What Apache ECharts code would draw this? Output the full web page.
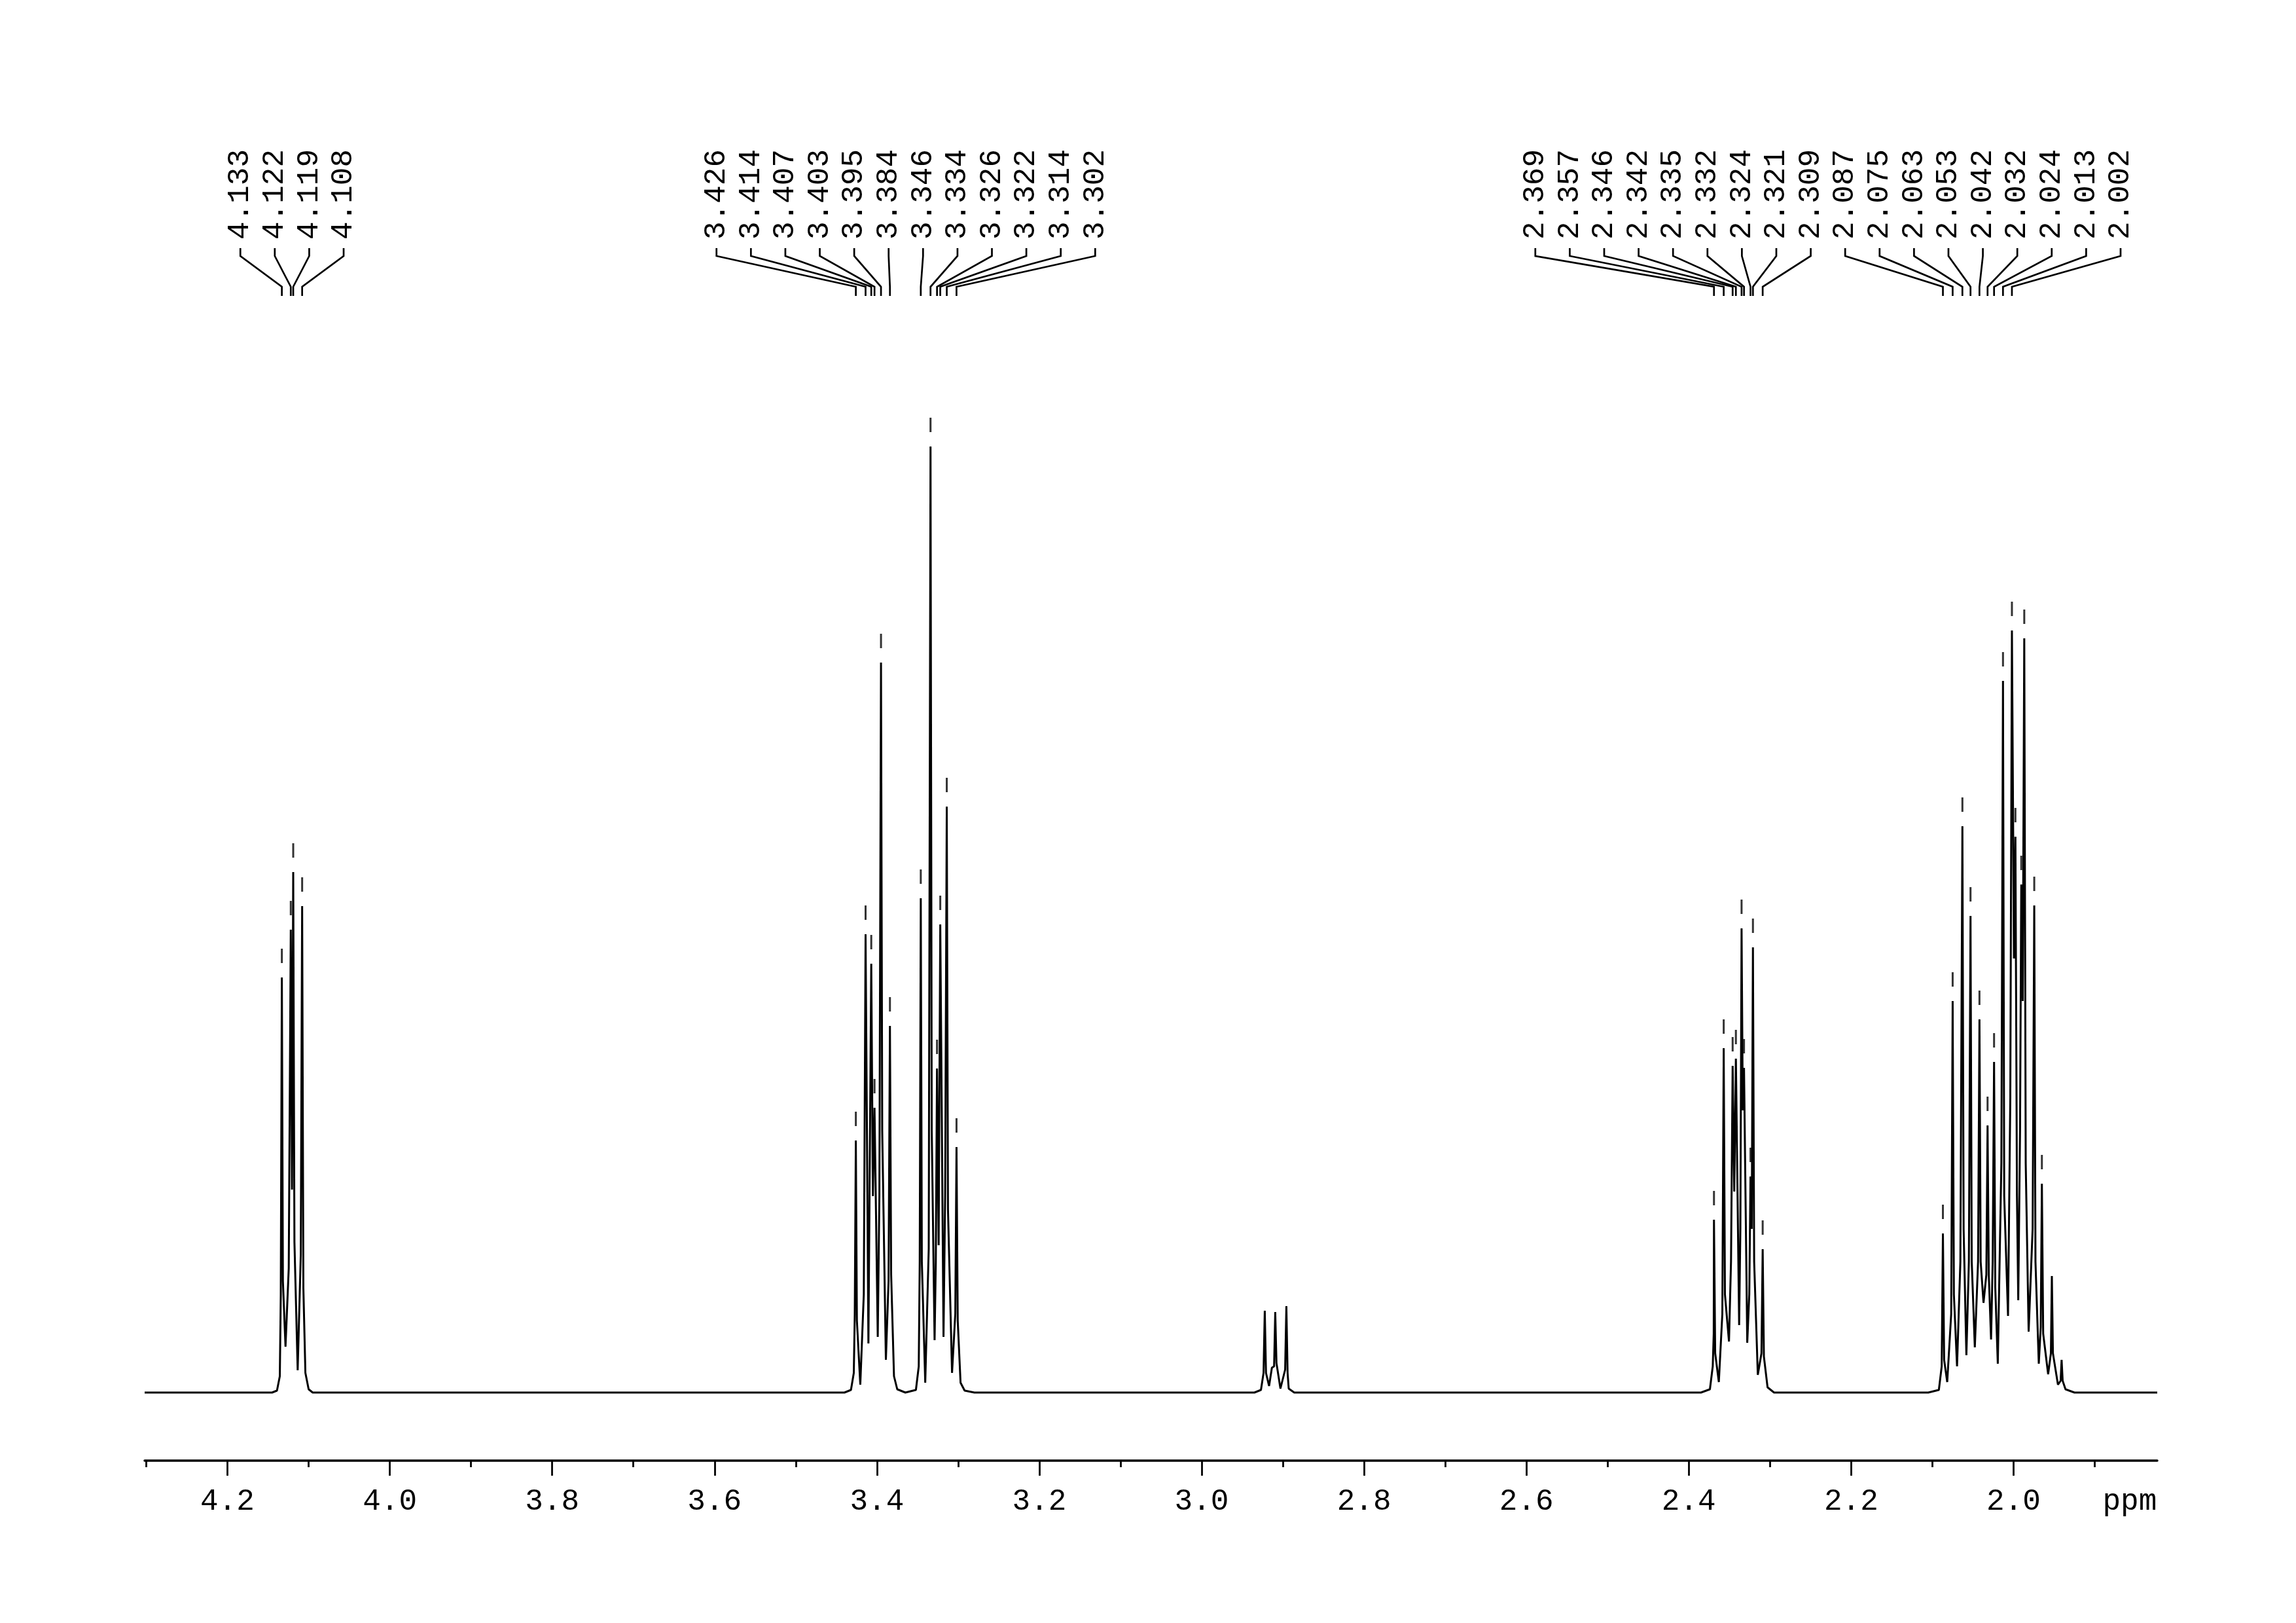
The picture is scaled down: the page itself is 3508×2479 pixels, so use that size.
<!DOCTYPE html>
<html>
<head>
<meta charset="utf-8">
<script src="https://cdn.jsdelivr.net/npm/echarts@6/dist/echarts.min.js"></script>
<style>html,body{margin:0;padding:0;background:#fff}#c{width:3508px;height:2479px}</style>
</head>
<body>
<div id="c"></div>
<script>
// ---- axis ticks ----
const majorTicks = [4.2, 4.0, 3.8, 3.6, 3.4, 3.2, 3.0, 2.8, 2.6, 2.4, 2.2, 2.0];
const minorTicks = [4.3, 4.1, 3.9, 3.7, 3.5, 3.3, 3.1, 2.9, 2.7, 2.5, 2.3, 2.1, 1.9];
const unitPos = 1.857;
const unitName = 'ppm';
const xMin = 1.823, xMax = 4.302;

// ---- peak labels (ppm) ----
const labelsA = [4.133, 4.122, 4.119, 4.108];
const labelsB = [3.426, 3.414, 3.407, 3.403, 3.395, 3.384, 3.346, 3.334, 3.326, 3.322, 3.314, 3.302];
const labelsC = [2.369, 2.357, 2.346, 2.342, 2.335, 2.332, 2.324, 2.321, 2.309,
                 2.087, 2.075, 2.063, 2.053, 2.042, 2.032, 2.024, 2.013, 2.002];
const labelCenters = [4.1205, 3.3644, 2.2286];

// ---- picked peaks (ppm, intensity) ----
const peaksA = [[4.133, 634], [4.122, 707], [4.119, 795], [4.108, 743]];
const peaksB = [[3.426, 385], [3.414, 700], [3.407, 655], [3.403, 435], [3.395, 1115], [3.384, 560],
                [3.346, 755], [3.334, 1445], [3.326, 495], [3.322, 715], [3.314, 895], [3.302, 375]];
const peaksC = [[2.369, 264], [2.357, 526], [2.346, 499], [2.342, 510], [2.335, 709], [2.332, 496],
                [2.324, 330], [2.321, 680], [2.309, 219]];
const peaksD = [[2.087, 243], [2.075, 598], [2.063, 865], [2.053, 728], [2.042, 570], [2.032, 408],
                [2.024, 505], [2.013, 1087], [2.002, 1164], [1.9977, 849], [1.9905, 776],
                [1.9868, 1152], [1.9745, 744], [1.9651, 319]];

// ---- spectrum trace (ppm, intensity) ----
const traceA = [[4.145, 0], [4.139, 3], [4.1355, 25], [4.1343, 150], [4.133, 634], [4.1317, 170],
  [4.1285, 70], [4.1245, 190], [4.122, 707], [4.1205, 310], [4.119, 795], [4.1175, 230],
  [4.1135, 34], [4.1097, 210], [4.108, 743], [4.1065, 160], [4.104, 30], [4.1, 5], [4.095, 0]];
const traceB = [[3.44, 0], [3.432, 4], [3.4285, 30], [3.4273, 120], [3.426, 385], [3.4247, 110],
  [3.4205, 12], [3.4162, 150], [3.414, 700], [3.4105, 75], [3.407, 655], [3.405, 300],
  [3.403, 435], [3.399, 85], [3.397, 300], [3.395, 1115], [3.3935, 400], [3.389, 50],
  [3.3857, 170], [3.384, 560], [3.3825, 180], [3.379, 25], [3.375, 5], [3.365, 0],
  [3.352, 4], [3.3485, 40], [3.3473, 200], [3.346, 755], [3.3447, 200], [3.3405, 15],
  [3.3362, 220], [3.334, 1445], [3.3325, 400], [3.329, 80], [3.3275, 200], [3.326, 495],
  [3.324, 225], [3.322, 715], [3.318, 85], [3.316, 300], [3.314, 895], [3.3125, 280],
  [3.3075, 30], [3.3035, 120], [3.302, 375], [3.3005, 110], [3.297, 15], [3.292, 3], [3.28, 0]];
const traceS = [[2.935, 0], [2.927, 4], [2.9238, 30], [2.9223, 125], [2.9208, 30], [2.917, 10],
  [2.9135, 38], [2.9108, 40], [2.9094, 123], [2.9079, 45], [2.903, 6], [2.8972, 35],
  [2.8957, 132], [2.8942, 30], [2.8928, 6], [2.886, 0]];
const traceC = [[2.385, 0], [2.374, 5], [2.3705, 40], [2.3693, 90], [2.369, 264], [2.3675, 60],
  [2.363, 16], [2.3587, 120], [2.357, 526], [2.3555, 150], [2.3505, 78], [2.348, 200],
  [2.346, 499], [2.344, 307], [2.342, 510], [2.338, 103], [2.3365, 250], [2.335, 709],
  [2.3335, 431], [2.332, 496], [2.328, 76], [2.3255, 150], [2.324, 330], [2.3225, 250],
  [2.321, 680], [2.3195, 200], [2.315, 27], [2.3105, 60], [2.309, 219], [2.3075, 55],
  [2.303, 8], [2.295, 0]];
const traceD = [[2.105, 0], [2.092, 4], [2.0885, 40], [2.087, 243], [2.0855, 50], [2.0817, 16],
  [2.0768, 120], [2.075, 598], [2.0735, 150], [2.0696, 40], [2.0655, 200], [2.063, 865],
  [2.0615, 250], [2.0581, 57], [2.055, 200], [2.053, 728], [2.0515, 200], [2.0477, 69],
  [2.0437, 200], [2.042, 570], [2.0405, 200], [2.037, 137], [2.0335, 180], [2.032, 408],
  [2.0305, 180], [2.0277, 81], [2.0257, 200], [2.024, 505], [2.0225, 160], [2.0194, 44],
  [2.015, 350], [2.013, 1087], [2.0115, 300], [2.0068, 117], [2.004, 450], [2.002, 1164],
  [1.9995, 663], [1.9977, 849], [1.9958, 300], [1.9942, 141], [1.992, 400], [1.9905, 776],
  [1.9887, 598], [1.9868, 1152], [1.985, 350], [1.9814, 93], [1.9765, 250], [1.9745, 744],
  [1.973, 200], [1.9689, 44], [1.9665, 100], [1.9651, 319], [1.9635, 90], [1.9574, 28],
  [1.954, 60], [1.9528, 178], [1.9515, 60], [1.9453, 12], [1.942, 18], [1.9408, 50],
  [1.9395, 18], [1.936, 5], [1.925, 0]];

// ---- build ----
const spectrum = [[xMax, 0]].concat(traceA, traceB, traceS, traceC, traceD, [[xMin, 0]]);
const marks = peaksA.concat(peaksB, peaksC, peaksD);
const labelGroups = [labelsA, labelsB, labelsC];
const labelData = [];
labelGroups.forEach(function (arr, g) {
  arr.forEach(function (v, k) { labelData.push([v, g, k, arr.length]); });
});

const chart = echarts.init(document.getElementById('c'), null, { renderer: 'canvas' });
const axisFont = '"Liberation Mono", "DejaVu Sans Mono", monospace';
chart.setOption({
  animation: false,
  backgroundColor: '#ffffff',
  grid: { left: 221, right: 212, top: 400, bottom: 248 },
  xAxis: [{
    type: 'value', min: xMin, max: xMax, inverse: true, position: 'bottom',
    axisLine: { show: true, onZero: false, lineStyle: { color: '#000', width: 3.5 } },
    axisTick: { show: true, customValues: majorTicks, length: 23, lineStyle: { color: '#000', width: 2.8 } },
    axisLabel: {
      show: true, customValues: majorTicks.concat([unitPos]), margin: 40,
      fontFamily: axisFont, fontSize: 46, color: '#000',
      formatter: function (v) { return Math.abs(v - unitPos) < 1e-6 ? unitName : v.toFixed(1); }
    },
    splitLine: { show: false }
  }, {
    type: 'value', min: xMin, max: xMax, inverse: true, position: 'bottom',
    axisLine: { show: false, onZero: false },
    axisTick: { show: true, customValues: minorTicks, length: 10, lineStyle: { color: '#000', width: 2.8 } },
    axisLabel: { show: false },
    splitLine: { show: false }
  }],
  yAxis: { type: 'value', min: -104, max: 1727, show: false, splitLine: { show: false } },
  series: [{
    type: 'line', xAxisIndex: 0, data: spectrum, showSymbol: false, symbol: 'none',
    lineStyle: { color: '#000', width: 3 }, silent: true
  }, {
    type: 'scatter', xAxisIndex: 0, data: marks, symbol: 'rect', symbolSize: [3, 22],
    symbolOffset: [0, -33], itemStyle: { color: '#000' }, silent: true
  }, {
    type: 'custom', xAxisIndex: 0, data: labelData, silent: true, clip: false,
    renderItem: function (params, api) {
      const ppm = api.value(0), g = api.value(1), k = api.value(2), n = api.value(3);
      const cx = api.coord([labelCenters[g], 0])[0];
      const lx = cx + (k - (n - 1) / 2) * 52.6;
      const px = api.coord([ppm, 0])[0];
      return {
        type: 'group',
        children: [{
          type: 'polyline',
          shape: { points: [[lx, 379], [lx, 391], [px, 438], [px, 452]] },
          style: { stroke: '#000', lineWidth: 2.7, fill: null }
        }, {
          type: 'text', x: lx, y: 366, rotation: Math.PI / 2,
          style: { text: ppm.toFixed(3), font: '46px ' + axisFont, fill: '#000',
                   align: 'left', verticalAlign: 'middle' }
        }]
      };
    }
  }]
});
</script>
</body>
</html>
